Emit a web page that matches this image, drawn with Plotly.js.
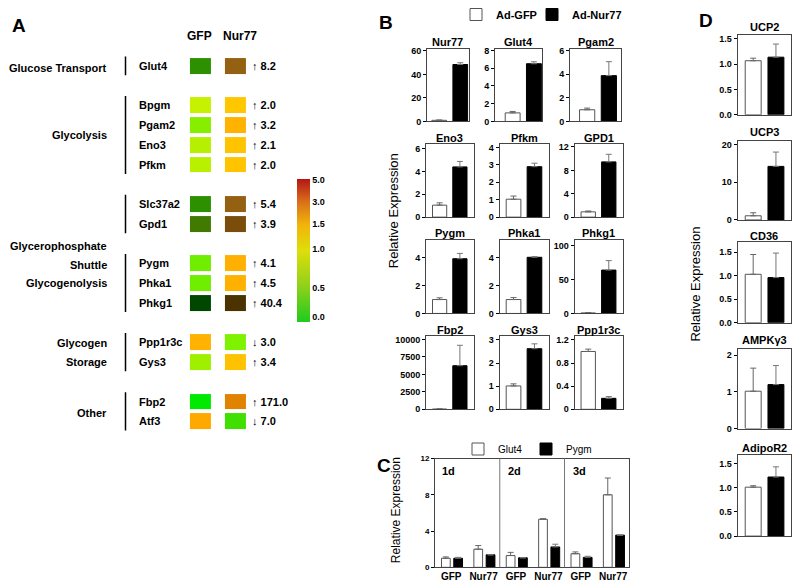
<!DOCTYPE html>
<html><head><meta charset="utf-8">
<script src="https://cdn.plot.ly/plotly-3.0.1.min.js"></script>
<style>html,body{margin:0;padding:0;background:#fff}#chart{width:800px;height:588px}</style>
</head><body><div id="chart"></div>
<script>
// ================= DATA =================
// Panel A (heat map)
const aGenes = ['Glut4','Bpgm','Pgam2','Eno3','Pfkm','Slc37a2','Gpd1','Pygm','Phka1','Phkg1','Ppp1r3c','Gys3','Fbp2','Atf3'];
const aGeneGroup = [0,1,1,1,1,2,2,3,3,3,4,4,5,5];
const aGroupLabels = ['Glucose Transport','Glycolysis','Glycerophosphate','Shuttle','Glycogenolysis','Glycogen','Storage','Other'];
const aFoldDirection = ['↑','↑','↑','↑','↑','↑','↑','↑','↑','↑','↓','↑','↑','↓'];
const aFoldChange = [8.2,2.0,3.2,2.1,2.0,5.4,3.9,4.1,4.5,40.4,3.0,3.4,171.0,7.0];
const aColumns = ['GFP','Nur77'];
const aGfpColors = ['#2c9000','#c6f200','#88ee00','#b6f000','#b8f000','#2c9000','#407a00','#6fee00','#6fee00','#004800','#ffb200','#9ff000','#00ea00','#ffa900'];
const aNur77Colors = ['#946112','#ffc700','#ffb300','#ffc400','#ffc300','#946012','#7a4e0a','#ffb000','#ffb100','#4b3300','#7ff200','#ffc200','#e08300','#3fe000'];
const cbTickLabels = ['0.0','0.5','1.0','1.5','3.0','5.0'];
const cbTickPos = [0.033,0.234,0.506,0.681,0.835,0.99];
const cbColors = ['#1ecb1e','#8fd11a','#dede0a','#f2b40a','#d8701a','#b51515'];

// Panel B (relative expression, Ad-GFP vs Ad-Nur77)
const bGenes = ['Nur77','Glut4','Pgam2','Eno3','Pfkm','GPD1','Pygm','Phka1','Phkg1','Fbp2','Gys3','Ppp1r3c'];
const bGfp = [1.0,0.97,0.99,1.05,1.03,0.9,1.0,1.0,0.8,25,1.01,1.0];
const bGfpErr = [0.3,0.16,0.14,0.2,0.18,0.15,0.12,0.14,0.4,30,0.09,0.04];
const bNur77 = [48.5,6.5,3.87,4.4,2.9,9.45,3.93,4.03,64,6250,2.62,0.19];
const bNur77Err = [1.5,0.22,1.18,0.48,0.2,1.3,0.38,0.05,14,2930,0.21,0.03];
const bTickLabels = [['0','20','40','60'],['0','2','4','6','8'],['0','2','4','6'],['0','2','4','6'],['0','1','2','3','4'],['0','4','8','12'],
  ['0','2','4'],['0','2','4'],['0','50','100'],['0','2500','5000','7500','10000'],['0','1','2','3'],['0','0.4','0.8','1.2']];
const bYMax = [62,8.2,6.15,6.4,4.2,12.5,5.3,5.3,109,10450,3.15,1.26];

// Panel C (time course)
const cDays = ['1d','2d','3d'];
const cConditions = ['GFP','Nur77'];
const cGlut4 = [1.0,2.0,1.3,5.3,1.5,8.0];
const cGlut4Err = [0.15,0.4,0.35,0.06,0.2,1.85];
const cPygm = [1.0,1.38,1.05,2.25,1.1,3.55];
const cPygmErr = [0.1,0,0,0.3,0.12,0];
const cTickLabels = ['0','4','8','12'];

// Panel D
const dGenes = ['UCP2','UCP3','CD36','AMPKγ3','AdipoR2'];
const dGfp = [1.07,1.1,1.03,1.02,1.01];
const dGfpErr = [0.05,0.8,0.42,0.63,0.03];
const dNur77 = [1.14,14.2,0.96,1.2,1.22];
const dNur77Err = [0.26,3.8,0.52,0.52,0.21];
const dTickLabels = [['0.0','0.5','1.0','1.5'],['0','10','20'],['0.0','0.5','1.0','1.5'],['0','1','2'],['0.0','0.5','1.0','1.5']];
const dYMax = [1.58,21,1.71,2.18,1.67];

// ================= HELPERS =================
const W = 800, H = 588;
const FONT = 'Liberation Sans, Arial, Helvetica, sans-serif';
const px = x => x / W;
const py = y => 1 - y / H;
const FRAME = '#444';
const traces = [];
const annotations = [];
const shapes = [];
const layout = {
  width: W, height: H, margin: {l:0, r:0, t:0, b:0},
  paper_bgcolor: '#fff', plot_bgcolor: 'rgba(0,0,0,0)',
  font: {family: FONT, color: '#000'},
  barmode: 'overlay', showlegend: true,
  annotations, shapes
};
function txt(x, y, text, size, opts) {
  annotations.push(Object.assign({x: px(x), y: py(y), xref:'paper', yref:'paper', text, showarrow:false,
    xanchor:'center', yanchor:'middle', font:{family:FONT, size, color:'#000'}}, opts || {}));
}
function boxAxes(n, x0, x1, y0, y1, xr, yr, ticks, tsize) {
  layout['xaxis'+n] = {domain:[px(x0),px(x1)], range:xr, anchor:'y'+n, showline:true, mirror:true, linecolor:FRAME, linewidth:1,
    showticklabels:false, ticks:'', showgrid:false, zeroline:false, fixedrange:true};
  layout['yaxis'+n] = {domain:[py(y1),py(y0)], range:yr, anchor:'x'+n, showline:true, mirror:true, linecolor:FRAME, linewidth:1,
    ticks:'outside', ticklen:3, tickwidth:1, tickcolor:'#000', tickvals: ticks.map(Number), ticktext: ticks,
    tickfont:{family:FONT, size:tsize||9, color:'#000', weight:'bold'}, showgrid:false, zeroline:false, fixedrange:true};
}
function pairBars(n, gfp, gfpErr, nur, nurErr, legA, legB) {
  traces.push({type:'bar', x:[0], y:[gfp], xaxis:'x'+n, yaxis:'y'+n, width:0.7, offset:-0.35, name:'Ad-GFP',
    marker:{color:'#fff', line:{color:'#555', width:1}}, legend: legA || 'legend', showlegend: !!legA, hoverinfo:'skip',
    error_y:{type:'data', symmetric:false, array:[gfpErr], arrayminus:[0], color:'#666', thickness:1, width:3}});
  traces.push({type:'bar', x:[1], y:[nur], xaxis:'x'+n, yaxis:'y'+n, width:0.7, offset:-0.35, name:'Ad-Nur77',
    marker:{color:'#000', line:{color:'#000', width:1}}, legend: legB || 'legend3', showlegend: !!legB, hoverinfo:'skip',
    error_y:{type:'data', symmetric:false, array:[nurErr], arrayminus:[0], color:'#777', thickness:1, width:3}});
}

// ================= PANEL A =================
const nRows = aGenes.length + Math.max(...aGeneGroup);
const rowOf = i => i + aGeneGroup[i];
const palette = aGfpColors.concat(aNur77Colors);
const zA = Array.from({length:nRows}, () => [null, null]);
aGenes.forEach((g, i) => { zA[rowOf(i)] = [i, aGenes.length + i]; });
traces.push({type:'heatmap', x:[0,1], y:Array.from({length:nRows}, (_, k) => k), z:zA,
  colorscale: palette.map((c, k) => [k/(palette.length-1), c]), zmin:0, zmax:palette.length-1,
  showscale:false, xgap:14, ygap:4, hoverinfo:'skip', xaxis:'x', yaxis:'y'});
layout.xaxis = {domain:[px(182.9), px(252.6)], range:[-0.5,1.5], visible:false, fixedrange:true};
layout.yaxis = {domain:[py(430.9), py(55.1)], range:[nRows-0.5,-0.5], visible:false, fixedrange:true};
aGenes.forEach((g, i) => {
  annotations.push({x:px(136.5), xref:'paper', y:rowOf(i), yref:'y', text:'<b>'+g+'</b>', showarrow:false, xanchor:'left', yanchor:'middle',
    font:{family:FONT, size:11, color:'#000'}});
  annotations.push({x:px(249.5), xref:'paper', y:rowOf(i), yref:'y', text:'<b>'+aFoldDirection[i]+' '+aFoldChange[i].toFixed(1)+'</b>', showarrow:false,
    xanchor:'left', yanchor:'middle', font:{family:FONT, size:11, color:'#000'}});
});
// group brackets
const nGroups = Math.max(...aGeneGroup) + 1;
for (let g = 0; g < nGroups; g++) {
  const rows = aGenes.map((_, i) => i).filter(i => aGeneGroup[i] === g).map(rowOf);
  shapes.push({type:'line', xref:'paper', yref:'y', x0:px(125.5), x1:px(125.5), y0:Math.min(...rows)-0.47, y1:Math.max(...rows)+0.47,
    line:{color:'#000', width:1.5}});
}
const groupLabelY = [66.7,134.3,245,264.3,282.7,342.3,361.7,412.3];
aGroupLabels.forEach((t, k) => txt(108.5, groupLabelY[k], '<b>'+t+'</b>', 11, {xanchor:'right'}));
txt(199, 35, '<b>'+aColumns[0]+'</b>', 12);
txt(239.5, 35, '<b>'+aColumns[1]+'</b>', 12);
// colour bar (scale key)
traces.push({type:'heatmap', z:[[0,1]], xaxis:'x20', yaxis:'y20', opacity:0, hoverinfo:'skip', zmin:0, zmax:1,
  colorscale: cbColors.map((c, k) => [[0,0.25,0.5,0.68,0.84,1][k], c]), showscale:true,
  colorbar:{x:px(296.7), xanchor:'left', y:py(250.2), yanchor:'middle', thickness:13, thicknessmode:'pixels', len:143, lenmode:'pixels',
    xpad:0, ypad:0, outlinewidth:0, ticks:'', tickvals:cbTickPos, ticktext:cbTickLabels, ticklabelposition:'outside',
    tickfont:{family:FONT, size:9, color:'#000', weight:'bold'}}});
layout.xaxis20 = {domain:[0,0.005], visible:false, fixedrange:true};
layout.yaxis20 = {domain:[0,0.005], visible:false, fixedrange:true, anchor:'x20'};

// ================= PANEL B =================
const bRowTop = [47.7,143.3,239,336], bRowBot = [120.7,216.5,313,409];
const bBoxRow1 = [[427,468.5],[495,542],[570,621]];
const bRangeRow1 = [[-0.58,1.39],[-0.83,1.38],[-0.79,1.56]];
const bBoxRowN = [[426,473.5],[499.5,548.5],[574.5,622.5]];
bGenes.forEach((g, i) => {
  const r = Math.floor(i/3), c = i % 3, n = i + 2;
  const bx = r === 0 ? bBoxRow1[c] : bBoxRowN[c];
  const xr = r === 0 ? bRangeRow1[c] : [-0.67,1.67];
  boxAxes(n, bx[0], bx[1], bRowTop[r], bRowBot[r], xr, [0, bYMax[i]], bTickLabels[i], 9);
  pairBars(n, bGfp[i], bGfpErr[i], bNur77[i], bNur77Err[i], i === 0 ? 'legend' : null, i === 0 ? 'legend3' : null);
  txt((bx[0]+bx[1])/2, bRowTop[r]-6.5, '<b>'+g+'</b>', 11);
});
txt(393, 210.5, 'Relative Expression', 13, {textangle:-90});

// ================= PANEL C =================
const cN = 14;
const cLabels = [];
cDays.forEach(() => cConditions.forEach(cc => cLabels.push(cc)));
const cX = cLabels.map((_, k) => k);
layout['xaxis'+cN] = {domain:[px(435), px(629.3)], range:[-0.5,5.5], anchor:'y'+cN, showline:true, mirror:true, linecolor:FRAME, linewidth:1,
  ticks:'', tickvals:cX, ticktext:cLabels, tickfont:{family:FONT, size:10, color:'#000', weight:'bold'}, showgrid:false, zeroline:false, fixedrange:true};
layout['yaxis'+cN] = {domain:[py(567.3), py(458.3)], range:[0,12], anchor:'x'+cN, showline:true, mirror:true, linecolor:FRAME, linewidth:1,
  ticks:'outside', ticklen:3, tickcolor:'#000', tickvals:cTickLabels.map(Number), ticktext:cTickLabels,
  tickfont:{family:FONT, size:8, color:'#000', weight:'bold'}, showgrid:false, zeroline:false, fixedrange:true};
traces.push({type:'bar', x:cX, y:cGlut4, xaxis:'x'+cN, yaxis:'y'+cN, width:0.27, offset:-0.3, name:'Glut4', legend:'legend2',
  marker:{color:'#fff', line:{color:'#555', width:1}}, hoverinfo:'skip',
  error_y:{type:'data', symmetric:false, array:cGlut4Err, arrayminus:cGlut4Err.map(() => 0), color:'#666', thickness:1, width:3}});
traces.push({type:'bar', x:cX, y:cPygm, xaxis:'x'+cN, yaxis:'y'+cN, width:0.27, offset:0.08, name:'Pygm', legend:'legend4',
  marker:{color:'#000', line:{color:'#000', width:1}}, hoverinfo:'skip',
  error_y:{type:'data', symmetric:false, array:cPygmErr, arrayminus:cPygmErr.map(() => 0), color:'#777', thickness:1, width:3}});
[1.5, 3.5].forEach(xv => shapes.push({type:'line', xref:'x'+cN, yref:'y'+cN+' domain', x0:xv, x1:xv, y0:0, y1:1, line:{color:'#777', width:1}}));
cDays.forEach((d, k) => txt([448,514,579][k], 470.7, '<b>'+d+'</b>', 11));
txt(396, 510, 'Relative Expression', 12, {textangle:-90});

// ================= PANEL D =================
const dTop = [34,140,241.7,348.3,455], dBot = [114,219.3,322.3,428.3,536], dTitleY = [26.5,131.7,235,340,448];
dGenes.forEach((g, i) => {
  const n = 15 + i;
  boxAxes(n, 737.5, 790.5, dTop[i], dBot[i], [-0.69,1.64], [0, dYMax[i]], dTickLabels[i], 9);
  pairBars(n, dGfp[i], dGfpErr[i], dNur77[i], dNur77Err[i], null, null);
  txt(764, dTitleY[i], '<b>'+g+'</b>', 11);
});
txt(696, 284, 'Relative Expression', 13, {textangle:-90});

// ================= LEGENDS & LETTERS =================
const legBase = {xanchor:'left', yanchor:'middle', bgcolor:'rgba(0,0,0,0)', borderwidth:0, orientation:'h', itemclick:false, itemdoubleclick:false};
layout.legend = Object.assign({x:px(456), y:py(14), font:{family:FONT, size:11, color:'#000', weight:'bold'}}, legBase);
layout.legend3 = Object.assign({x:px(532), y:py(14), font:{family:FONT, size:11, color:'#000', weight:'bold'}}, legBase);
layout.legend2 = Object.assign({x:px(458), y:py(449), font:{family:FONT, size:10, color:'#000'}}, legBase);
layout.legend4 = Object.assign({x:px(526), y:py(449), font:{family:FONT, size:10, color:'#000'}}, legBase);

txt(18.5, 25, '<b>A</b>', 19);
txt(386, 22, '<b>B</b>', 19);
txt(384, 465, '<b>C</b>', 19);
txt(706, 20, '<b>D</b>', 19);

Plotly.newPlot('chart', traces, layout, {staticPlot:true, displayModeBar:false});
</script>
</body></html>
